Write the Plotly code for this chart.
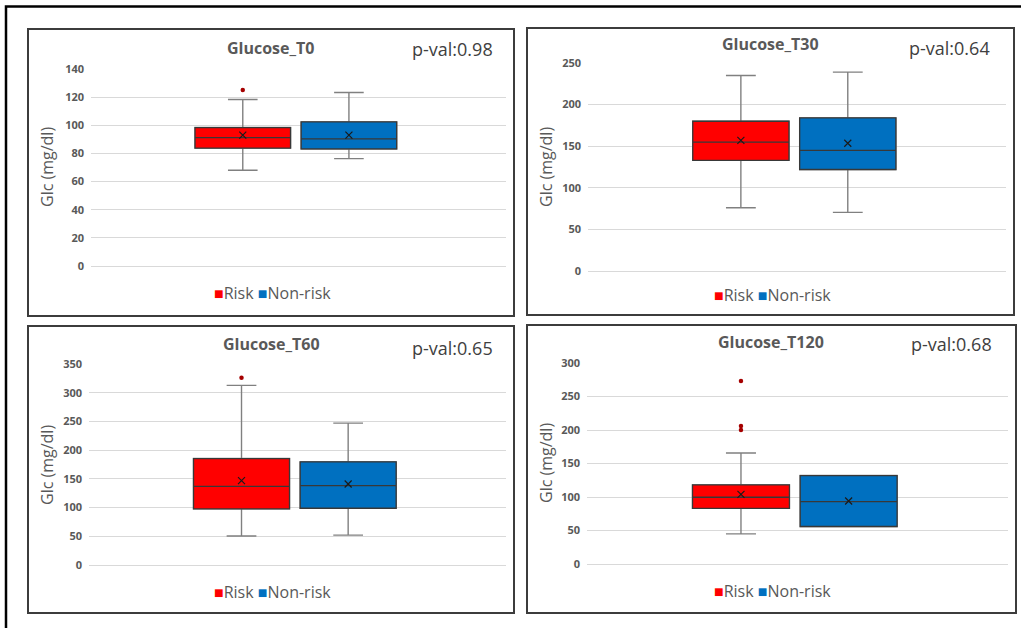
import plotly.graph_objects as go

W, H = 1021, 628

groups = ["Risk", "Non-risk"]
colors = ["#FF0000", "#0070C0"]

titles = ["Glucose_T0", "Glucose_T30", "Glucose_T60", "Glucose_T120"]
pvals = ["p-val:0.98", "p-val:0.64", "p-val:0.65", "p-val:0.68"]
y_max = [140, 250, 350, 300]
y_dtick = [20, 50, 50, 50]

# [Risk, Non-risk] per panel
q1 = [[83.8, 83.2], [133, 122], [97.7, 98.8], [83, 56]]
median = [[91.3, 90.3], [155, 145], [137, 138.3], [99.6, 93]]
q3 = [[98.4, 102.4], [180, 184], [185.4, 179.6], [118, 132]]
lowerfence = [[68, 76.3], [76, 70.5], [50.6, 52], [45, 56]]
upperfence = [[118.3, 123.3], [235, 239], [312.7, 247], [165.6, 132]]
means = [[93, 93], [157, 153.5], [147, 141], [104, 94]]
outliers = [[[125], []], [[], []], [[326], []], [[273, 206, 200], []]]

# layout geometry in pixels (plot areas, panel frames, text anchors)
plot_px = [(91, 506, 69, 266), (588, 1006, 63, 271), (89, 506, 364, 565), (587, 1008, 363, 564)]
frame_px = [(28, 514, 29, 316), (527, 1014, 28, 315), (28, 514, 326, 613), (527, 1016, 325, 613)]
title_px = [(271, 48), (770, 44), (271, 344), (771, 342)]
pval_px = [(495, 49), (992, 48), (495, 348), (994, 344)]
ytitle_px = [(47, 167), (546, 167), (47, 465), (546, 463)]
legend_px = [(272, 293), (772, 295), (272, 592), (772, 591)]

FONT = "Open Sans"

def px(x):
    return x / W

def py(y):
    return 1 - y / H

fig = go.Figure()
annotations = []
shapes = []

for p in range(4):
    ax = "" if p == 0 else str(p + 1)
    xa, ya = "x" + ax, "y" + ax
    for g in range(2):
        # whiskers (gray)
        fig.add_trace(go.Box(
            x=[groups[g]], q1=[q1[p][g]], median=[median[p][g]], q3=[q3[p][g]],
            lowerfence=[lowerfence[p][g]], upperfence=[upperfence[p][g]],
            name=groups[g], fillcolor=colors[g],
            line=dict(color="#808080", width=1.4), whiskerwidth=0.31,
            width=0.9, boxpoints=False, xaxis=xa, yaxis=ya, showlegend=False,
        ))
        # box body with darker outline and median
        fig.add_trace(go.Box(
            x=[groups[g]], q1=[q1[p][g]], median=[median[p][g]], q3=[q3[p][g]],
            lowerfence=[q1[p][g]], upperfence=[q3[p][g]],
            name=groups[g], fillcolor=colors[g],
            line=dict(color="#383838", width=1.3), whiskerwidth=0,
            width=0.9, boxpoints=False, xaxis=xa, yaxis=ya, showlegend=False,
        ))
    for g in range(2):
        if outliers[p][g]:
            fig.add_trace(go.Scatter(
                x=[groups[g]] * len(outliers[p][g]), y=outliers[p][g], mode="markers",
                marker=dict(color="#A50000", size=4.5), xaxis=xa, yaxis=ya,
                showlegend=False, hoverinfo="y",
            ))
        fig.add_trace(go.Scatter(
            x=[groups[g]], y=[means[p][g]], mode="markers",
            marker=dict(symbol="x-thin", size=7, line=dict(color="#1a1a1a", width=1.2)),
            xaxis=xa, yaxis=ya, showlegend=False, hoverinfo="y",
        ))

    x0, x1, y0, y1 = plot_px[p]
    fig.layout["xaxis" + ax] = dict(
        domain=[px(x0), px(x1)], type="category", categoryorder="array",
        categoryarray=groups, range=[-1.43, 2.48], visible=False, anchor=ya,
        automargin=False,
    )
    fig.layout["yaxis" + ax] = dict(
        domain=[py(y1), py(y0)], range=[0, y_max[p]], dtick=y_dtick[p],
        showgrid=True, gridcolor="#d9d9d9", gridwidth=1, zeroline=True,
        zerolinecolor="#d9d9d9", zerolinewidth=1, showline=False, ticks="",
        tickfont=dict(family=FONT, size=11, color="#595959", weight="bold"),
        ticklabelstandoff=6, anchor=xa, automargin=False,
    )
    legend_text = " ".join(
        f"<span style='color:{colors[g]}'>■</span>{groups[g]}" for g in range(2)
    )
    annotations.append(dict(
        text=legend_text, x=px(legend_px[p][0]), y=py(legend_px[p][1]),
        xref="paper", yref="paper", showarrow=False, xanchor="center", yanchor="middle",
        font=dict(family=FONT, size=16, color="#595959"),
    ))
    annotations.append(dict(
        text="<b>" + titles[p] + "</b>", x=px(title_px[p][0]), y=py(title_px[p][1]),
        xref="paper", yref="paper", showarrow=False, xanchor="center", yanchor="middle",
        font=dict(family=FONT, size=16, color="#595959"),
    ))
    annotations.append(dict(
        text=pvals[p], x=px(pval_px[p][0]), y=py(pval_px[p][1]),
        xref="paper", yref="paper", showarrow=False, xanchor="right", yanchor="middle",
        font=dict(family=FONT, size=18, color="#404040"),
    ))
    annotations.append(dict(
        text="Glc (mg/dl)", x=px(ytitle_px[p][0]), y=py(ytitle_px[p][1]),
        xref="paper", yref="paper", showarrow=False, xanchor="center", yanchor="middle",
        textangle=-90, font=dict(family=FONT, size=16, color="#595959"),
    ))
    fx0, fx1, fy0, fy1 = frame_px[p]
    shapes.append(dict(
        type="rect", xref="paper", yref="paper", x0=px(fx0), x1=px(fx1),
        y0=py(fy1), y1=py(fy0), line=dict(color="#3c3c3c", width=2),
    ))

shapes.append(dict(
    type="path", xref="paper", yref="paper",
    path=f"M {px(6)},{py(640)} L {px(6)},{py(6.5)} L {px(1030)},{py(6.5)}",
    line=dict(color="#000000", width=2.5),
))

fig.update_layout(
    width=W, height=H, margin=dict(l=0, r=0, t=0, b=0, pad=0, autoexpand=False),
    paper_bgcolor="white", plot_bgcolor="white",
    annotations=annotations, shapes=shapes, showlegend=False,
)

fig.write_html(
    "out.html",
    config={"displayModeBar": False},
    post_script=(
        "document.documentElement.style.margin='0';"
        "document.body.style.margin='0';document.body.style.padding='0';"
        "document.body.style.overflow='hidden';"
        "var d=document.getElementById('{plot_id}');"
        "d.style.position='fixed';d.style.top='0';d.style.left='0';"
    ),
)
